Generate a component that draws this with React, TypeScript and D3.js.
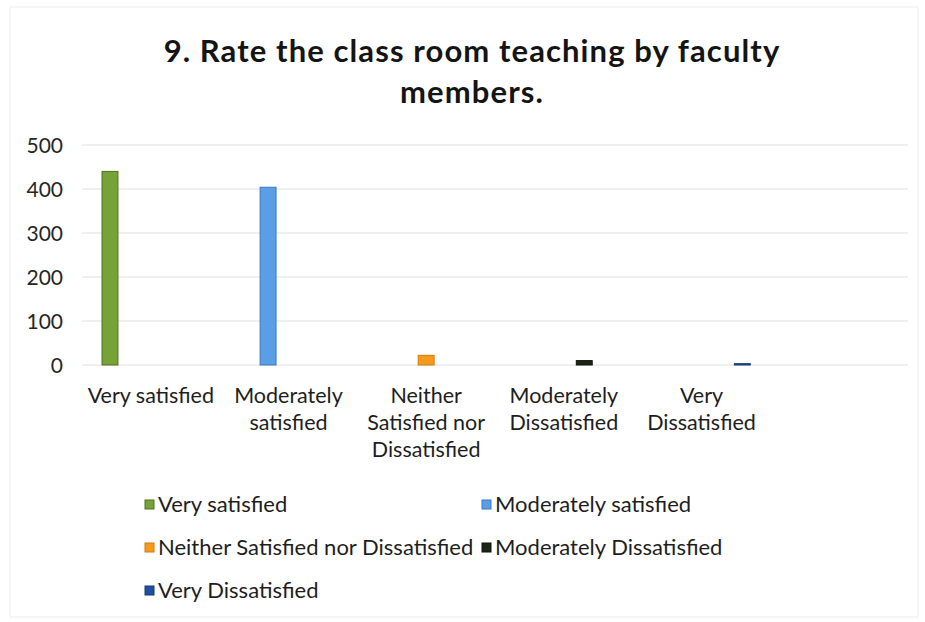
import React from "react";
import * as d3 from "d3";

const titleLines = ["9. Rate the class room teaching by faculty", "members."];
const categories = [
  "Very satisfied",
  "Moderately satisfied",
  "Neither Satisfied nor Dissatisfied",
  "Moderately Dissatisfied",
  "Very Dissatisfied",
];
const categoryLabelLines = [
  ["Very satisfied"],
  ["Moderately", "satisfied"],
  ["Neither", "Satisfied nor", "Dissatisfied"],
  ["Moderately", "Dissatisfied"],
  ["Very", "Dissatisfied"],
];
const seriesNames = categories;
const values = [440, 404, 22, 10, 3];
const yTicks = [0, 100, 200, 300, 400, 500];
const seriesFill = ["#76a236", "#5b9ee6", "#f59a1c", "#1d2416", "#1f4f9e"];
const seriesStroke = ["#4e7220", "#3a78c4", "#d37b10", "#0d120a", "#123a78"];

const W = 925;
const H = 622;
const FONT = "Lato, 'Open Sans', sans-serif";

export default function App() {
  const plotLeft = 82;
  const plotRight = 908;
  const yScale = d3.scaleLinear().domain([0, 500]).range([365, 145]);
  const x0 = d3
    .scaleBand<string>()
    .domain([...categories, "__blank__"])
    .range([plotLeft, plotRight])
    .padding(0);
  const x1 = d3
    .scaleBand<string>()
    .domain(seriesNames)
    .range([0, x0.bandwidth()])
    .paddingInner(0.22)
    .paddingOuter(0.98);

  const legendCols = [145, 482];
  const legendRows = [512, 555, 598];

  return (
    <svg
      width={W}
      height={H}
      style={{ position: "absolute", left: 0, top: 0, background: "#fff" }}
      fontFamily={FONT}
    >
      <rect x={10} y={7} width={908} height={610} fill="none" stroke="#ededed" strokeWidth={1} />
      {titleLines.map((t, i) => (
        <text
          key={t}
          x={472}
          y={62 + i * 41}
          textAnchor="middle"
          fontSize={31}
          fontWeight={700}
          letterSpacing={1.1}
          fill="#141414"
        >
          {t}
        </text>
      ))}
      {yTicks.map((t) => (
        <g key={t}>
          <line
            x1={plotLeft}
            x2={plotRight}
            y1={yScale(t)}
            y2={yScale(t)}
            stroke="#e0e0e0"
            strokeWidth={1}
          />
          <text
            x={63}
            y={yScale(t)}
            dy="0.36em"
            textAnchor="end"
            fontSize={21}
            fill="#262626"
          >
            {t}
          </text>
        </g>
      ))}
      {seriesNames.map((s, i) => {
        const cat = categories[i];
        const x = (x0(cat) ?? 0) + (x1(s) ?? 0);
        const y = yScale(values[i]);
        return (
          <rect
            key={s}
            x={x}
            y={y}
            width={x1.bandwidth()}
            height={yScale(0) - y}
            fill={seriesFill[i]}
            stroke={seriesStroke[i]}
            strokeWidth={1}
          />
        );
      })}
      {categories.map((c, i) => {
        const cx = (x0(c) ?? 0) + x0.bandwidth() / 2;
        return (
          <text key={c} textAnchor="middle" fontSize={21.5} fill="#1e1e1e">
            {categoryLabelLines[i].map((ln, j) => (
              <tspan key={j} x={cx} y={403 + j * 27}>
                {ln}
              </tspan>
            ))}
          </text>
        );
      })}
      {seriesNames.map((s, i) => {
        const col = i % 2;
        const row = Math.floor(i / 2);
        const lx = legendCols[col];
        const ly = legendRows[row];
        return (
          <g key={s}>
            <rect
              x={lx}
              y={ly - 12}
              width={9}
              height={9}
              fill={seriesFill[i]}
              stroke={seriesStroke[i]}
              strokeWidth={1}
            />
            <text x={lx + 13} y={ly} fontSize={22} fill="#1e1e1e">
              {s}
            </text>
          </g>
        );
      })}
    </svg>
  );
}
